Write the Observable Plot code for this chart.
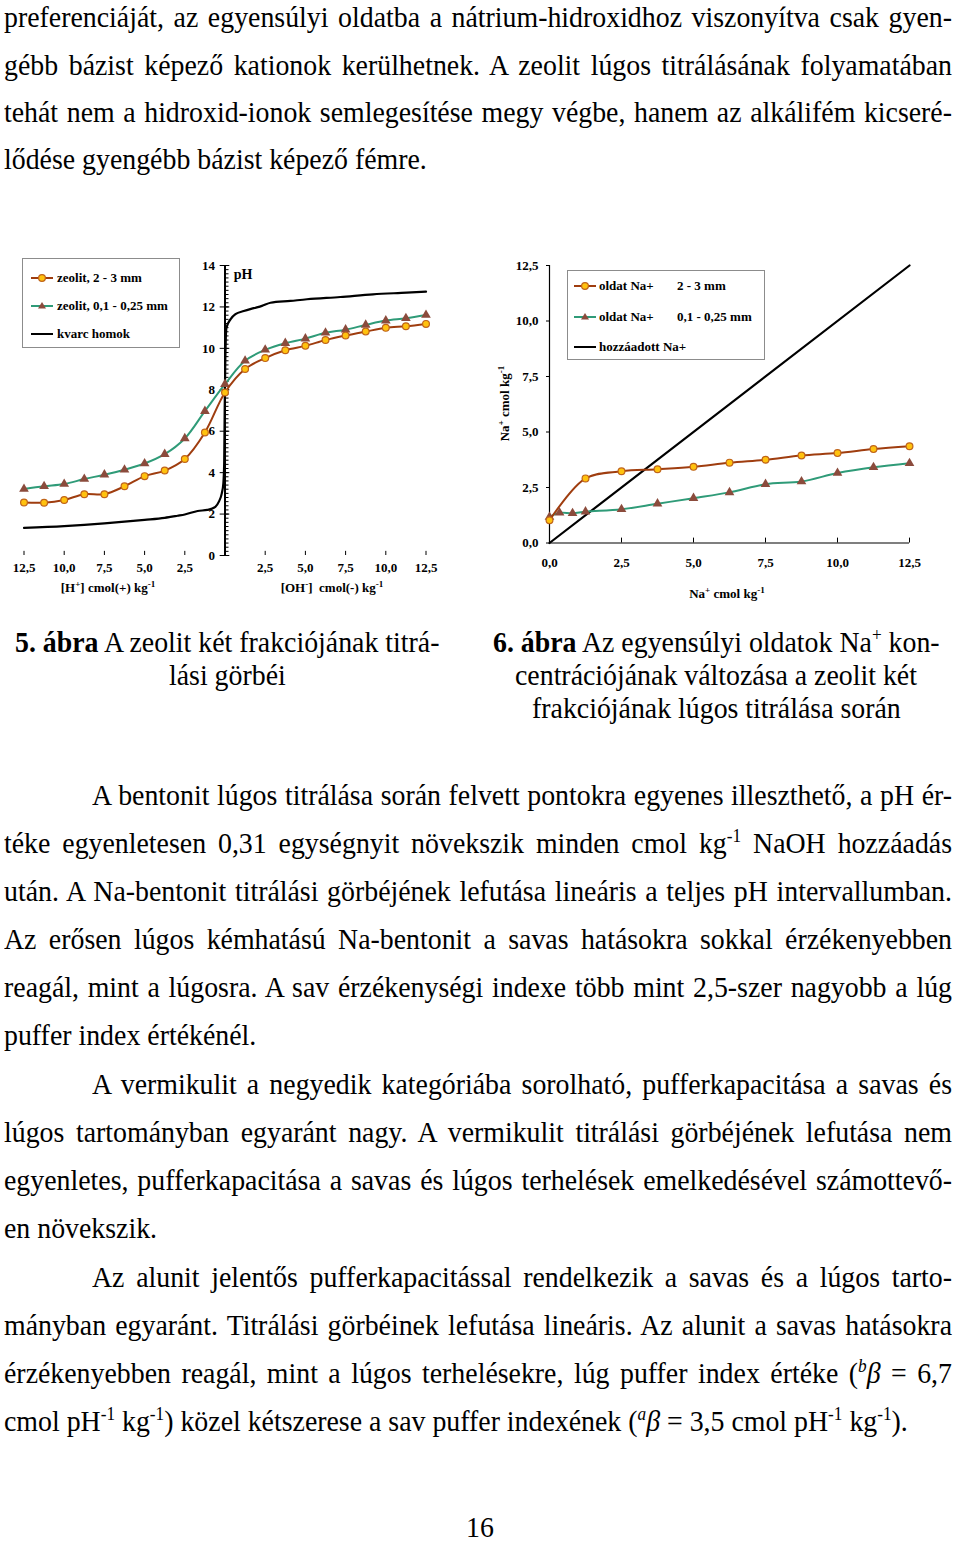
<!DOCTYPE html>
<html><head><meta charset="utf-8">
<script src="https://cdn.jsdelivr.net/npm/d3@7"></script>
<script src="https://cdn.jsdelivr.net/npm/@observablehq/plot@0.6"></script>
<style>
html,body{margin:0;padding:0;background:#fff;}
#page{position:relative;width:960px;height:1544px;overflow:hidden;font-family:"Liberation Serif","Times New Roman",Times,serif;color:#000;background:#fff;}
.ln{position:absolute;white-space:nowrap;font-size:29px;font-family:"Liberation Serif","Times New Roman",Times,serif;}
.ln span{display:inline-block;transform-origin:0 0;}
.ln sup{font-size:0.62em;line-height:0;vertical-align:0.6em;}
.chart{position:absolute;}
.lbl{position:absolute;white-space:nowrap;font-weight:bold;font-size:13px;line-height:13px;font-family:"Liberation Serif","Times New Roman",serif;}
.lbl sup{font-size:0.7em;line-height:0;vertical-align:0.6em;}
.legend{position:absolute;border:1px solid #8c8c8c;background:#fff;box-sizing:border-box;}
.legend .it{position:absolute;white-space:nowrap;font-weight:bold;font-size:13px;line-height:13px;font-family:"Liberation Serif","Times New Roman",serif;}
.legend svg{position:absolute;}
</style></head><body><div id="page"></div>
<script>
// ---------- chart 5: titration curves ----------
const acidLoad = [12.5, 11.25, 10, 8.75, 7.5, 6.25, 5, 3.75, 2.5, 1.25, 0];
const baseLoad = [1.25, 2.5, 3.75, 5, 6.25, 7.5, 8.75, 10, 11.25, 12.5];
const coarseAcidPH = [2.56, 2.55, 2.68, 2.96, 2.96, 3.34, 3.83, 4.1, 4.66, 5.94, 7.87];
const coarseBasePH = [9.0, 9.53, 9.91, 10.12, 10.4, 10.62, 10.81, 10.99, 11.07, 11.18];
const fineAcidPH = [3.21, 3.34, 3.45, 3.69, 3.9, 4.14, 4.44, 4.89, 5.65, 6.97, 8.27];
const fineBasePH = [9.4, 9.93, 10.25, 10.47, 10.75, 10.9, 11.13, 11.34, 11.45, 11.61];
// kvarc homok: signed load (negative = acid side), pH
const quartzLoad = [-12.5, -10, -7.5, -5, -3.75, -2.95, -2.5, -1.7, -1.1, -0.6, -0.38, -0.2, -0.1, -0.05, -0.02, 0.02, 0.05, 0.09, 0.34, 0.65, 1.17, 1.79, 2.3, 2.83, 4.07, 5.1, 7.17, 9.2, 11.3, 12.5];
const quartzPH = [1.33, 1.42, 1.55, 1.72, 1.82, 1.92, 1.98, 2.15, 2.2, 2.35, 2.6, 3.0, 3.5, 4.5, 7.0, 9.5, 10.5, 11.0, 11.4, 11.65, 11.8, 11.94, 12.05, 12.2, 12.29, 12.37, 12.48, 12.61, 12.69, 12.74];
const hTicks = [12.5, 10, 7.5, 5, 2.5];
const ohTicks = [2.5, 5, 7.5, 10, 12.5];
const phTicks = [0, 2, 4, 6, 8, 10, 12, 14];
const phMinor = d3.range(0, 14.01, 0.2);
const legend5 = ["zeolit, 2 - 3 mm", "zeolit, 0,1 - 0,25 mm", "kvarc homok"];

// ---------- chart 6: Na+ in equilibrium solution ----------
const addedNaX = [0, 12.5];
const addedNaY = [0, 12.5];
const coarseNaX = [0, 1.25, 2.5, 3.75, 5, 6.25, 7.5, 8.75, 10, 11.25, 12.5];
const coarseNaY = [1.02, 2.91, 3.23, 3.32, 3.43, 3.62, 3.75, 3.94, 4.05, 4.23, 4.36];
const fineNaX = [0, 0.35, 0.8, 1.25, 2.5, 3.75, 5, 6.25, 7.5, 8.75, 10, 11.25, 12.5];
const fineNaY = [1.17, 1.36, 1.34, 1.41, 1.52, 1.77, 2.02, 2.28, 2.65, 2.77, 3.15, 3.41, 3.59];
const naTicks = [0, 2.5, 5, 7.5, 10, 12.5];
const legend6 = [["oldat Na+", "2 - 3 mm"], ["oldat Na+", "0,1 - 0,25 mm"], ["hozzáadott Na+", ""]];

// ---------- page text ----------
const para1 = [
  "preferenciáját, az egyensúlyi oldatba a nátrium-hidroxidhoz viszonyítva csak gyen-",
  "gébb bázist képező kationok kerülhetnek. A zeolit lúgos titrálásának folyamatában",
  "tehát nem a hidroxid-ionok semlegesítése megy végbe, hanem az alkálifém kicseré-",
  "lődése gyengébb bázist képező fémre."
];
const caption5 = ["<b>5. ábra</b> A zeolit két frakciójának titrá-", "lási görbéi"];
const caption6 = ["<b>6. ábra</b> Az egyensúlyi oldatok Na<sup>+</sup> kon-", "centrációjának változása a zeolit két", "frakciójának lúgos titrálása során"];
const para2 = [
  "A bentonit lúgos titrálása során felvett pontokra egyenes illeszthető, a pH ér-",
  "téke egyenletesen 0,31 egységnyit növekszik minden cmol kg<sup>-1</sup> NaOH hozzáadás",
  "után. A Na-bentonit titrálási görbéjének lefutása lineáris a teljes pH intervallumban.",
  "Az erősen lúgos kémhatású Na-bentonit a savas hatásokra sokkal érzékenyebben",
  "reagál, mint a lúgosra. A sav érzékenységi indexe több mint 2,5-szer nagyobb a lúg",
  "puffer index értékénél."
];
const para3 = [
  "A vermikulit a negyedik kategóriába sorolható, pufferkapacitása a savas és",
  "lúgos tartományban egyaránt nagy. A vermikulit titrálási görbéjének lefutása nem",
  "egyenletes, pufferkapacitása a savas és lúgos terhelések emelkedésével számottevő-",
  "en növekszik."
];
const para4 = [
  "Az alunit jelentős pufferkapacitással rendelkezik a savas és a lúgos tarto-",
  "mányban egyaránt. Titrálási görbéinek lefutása lineáris. Az alunit a savas hatásokra",
  "érzékenyebben reagál, mint a lúgos terhelésekre, lúg puffer index értéke (<sup><i>b</i></sup><i>β</i> = 6,7",
  "cmol pH<sup>-1</sup> kg<sup>-1</sup>) közel kétszerese a sav puffer indexének (<sup><i>a</i></sup><i>β</i> = 3,5 cmol pH<sup>-1</sup> kg<sup>-1</sup>)."
];
const pageNumber = "16";

const page = document.getElementById("page");
const F = 29, S = 0.96, LH = 26;
function addLine(html, o) {
  const d = document.createElement("div");
  d.className = "ln";
  d.style.lineHeight = LH + "px";
  // baseline offset inside a line box of height LH
  const baseOff = (LH - 1.107 * F) / 2 + 0.891 * F;
  d.style.top = (o.base - baseOff) + "px";
  const s = document.createElement("span");
  s.innerHTML = html;
  d.appendChild(s);
  page.appendChild(d);
  const w = s.getBoundingClientRect().width;
  if (o.center != null) {
    s.style.transform = `scaleX(${S})`;
    d.style.left = (o.center - w * S / 2) + "px";
    return;
  }
  d.style.left = o.left + "px";
  const target = o.right - o.left;
  if (w * S >= target) { s.style.transform = `scaleX(${target / w})`; return; }
  s.style.transform = `scaleX(${S})`;
  if (o.justify) {
    const n = (s.textContent.match(/ /g) || []).length;
    if (n) s.style.wordSpacing = ((target / S - w) / n) + "px";
  }
}
function addPara(lines, firstBase, indent, step) {
  lines.forEach((t, i) => addLine(t, {
    base: firstBase + step * i,
    left: i === 0 ? indent : 4,
    right: 952,
    justify: i < lines.length - 1
  }));
}
addPara(para1, 27, 4, 47.3);
addPara(para2, 805, 92, 48);
addPara(para3, 1094, 92, 48);
addPara(para4, 1287, 92, 48);
caption5.forEach((t, i) => addLine(t, {base: 652 + 33 * i, center: 227}));
caption6.forEach((t, i) => addLine(t, {base: 652 + 33 * i, center: 716}));
addLine(pageNumber, {base: 1537, center: 480});

// ---------- colours ----------
const brown = "#9f3d0f", ochre = "#ffc20e", ochreStroke = "#c0641a";
const green = "#2f9b78", triBrown = "#8b4b3c";
const fmt = d => d3.format(".1f")(Math.abs(d)).replace(".", ",");
const font = {fontFamily: "Liberation Serif, Times New Roman, serif", fontSize: "13px", fontWeight: "bold", background: "transparent", overflow: "visible", color: "#000"};

// ---------- chart 5 ----------
const coarse = [...acidLoad.map((x, i) => ({x: -x, y: coarseAcidPH[i]})), ...baseLoad.map((x, i) => ({x, y: coarseBasePH[i]}))];
const fine = [...acidLoad.map((x, i) => ({x: -x, y: fineAcidPH[i]})), ...baseLoad.map((x, i) => ({x, y: fineBasePH[i]}))];
const quartz = quartzLoad.map((x, i) => ({x, y: quartzPH[i]}));
const signedTicks = [...hTicks.map(d => -d), ...ohTicks];

const p5 = Plot.plot({
  width: 450, height: 350,
  marginLeft: 23.5, marginRight: 24.5, marginTop: 15, marginBottom: 45,
  x: {domain: [-12.5, 12.5], label: null},
  y: {domain: [0, 14], label: null, axis: null},
  style: font,
  marks: [
    Plot.axisX(signedTicks, {tickSize: 0, tickPadding: 7, tickFormat: fmt, fontWeight: "bold", label: null}),
    Plot.ruleX(signedTicks, {x: d => d, y1: 0, y2: 0.2, stroke: "#000", strokeWidth: 1}),
    Plot.ruleY(phMinor, {y: d => d, x1: 0, x2: 0.25, stroke: "#000", strokeWidth: 1}),
    Plot.ruleY(phTicks, {y: d => d, x1: -0.3, x2: 0.3, stroke: "#000", strokeWidth: 1}),
    Plot.ruleX([0], {y1: 0, y2: 14, stroke: "#000", strokeWidth: 2}),
    Plot.text(phTicks, {x: 0, y: d => d, text: d => String(d), dx: -10, textAnchor: "end", fontWeight: "bold", fontSize: 13}),
    Plot.line(quartz, {x: "x", y: "y", stroke: "#000", strokeWidth: 2.2, curve: "monotone-x"}),
    Plot.line(fine, {x: "x", y: "y", stroke: green, strokeWidth: 2, curve: "catmull-rom"}),
    Plot.dot(fine, {x: "x", y: "y", symbol: "triangle", r: 3.6, fill: triBrown, stroke: "none"}),
    Plot.line(coarse, {x: "x", y: "y", stroke: brown, strokeWidth: 2, curve: "catmull-rom"}),
    Plot.dot(coarse, {x: "x", y: "y", r: 3.4, fill: ochre, stroke: ochreStroke, strokeWidth: 1.2})
  ]
});
p5.classList.add("chart");
p5.style.left = "0px"; p5.style.top = "250px";
page.appendChild(p5);

// ---------- chart 6 ----------
const coarseNa = coarseNaX.map((x, i) => ({x, y: coarseNaY[i]}));
const fineNa = fineNaX.map((x, i) => ({x, y: fineNaY[i]}));
const addedNa = addedNaX.map((x, i) => ({x, y: addedNaY[i]}));
const p6 = Plot.plot({
  width: 480, height: 360,
  marginLeft: 69, marginRight: 51, marginTop: 15, marginBottom: 67.5,
  x: {domain: [0, 12.5], label: null},
  y: {domain: [0, 12.5], label: null},
  style: font,
  marks: [
    Plot.axisY(naTicks, {tickSize: 3, tickPadding: 8, tickFormat: fmt, fontWeight: "bold", label: null}),
    Plot.axisX(naTicks, {tickSize: 0, tickPadding: 15, tickFormat: fmt, fontWeight: "bold", label: null}),
    Plot.ruleX(naTicks.slice(1), {x: d => d, y1: 0, y2: 0.22, stroke: "#000"}),
    Plot.ruleX([0], {stroke: "#000", strokeWidth: 1.2}),
    Plot.ruleY([0], {stroke: "#000", strokeWidth: 1.2}),
    Plot.line(addedNa, {x: "x", y: "y", stroke: "#000", strokeWidth: 2.2}),
    Plot.line(fineNa, {x: "x", y: "y", stroke: green, strokeWidth: 2, curve: "catmull-rom"}),
    Plot.dot(fineNa, {x: "x", y: "y", symbol: "triangle", r: 3.6, fill: triBrown, stroke: "none"}),
    Plot.line(coarseNa, {x: "x", y: "y", stroke: brown, strokeWidth: 2, curve: "catmull-rom"}),
    Plot.dot(coarseNa, {x: "x", y: "y", r: 3.4, fill: ochre, stroke: ochreStroke, strokeWidth: 1.2})
  ]
});
p6.classList.add("chart");
p6.style.left = "480px"; p6.style.top = "250px";
page.appendChild(p6);

// ---------- labels ----------
function addLabel(html, cx, cy, rotate) {
  const d = document.createElement("div");
  d.className = "lbl";
  d.innerHTML = html;
  page.appendChild(d);
  const r = d.getBoundingClientRect();
  d.style.left = (cx - r.width / 2) + "px";
  d.style.top = (cy - r.height / 2) + "px";
  if (rotate) d.style.transform = `rotate(${rotate}deg)`;
}
addLabel("[H<sup>+</sup>] cmol(+) kg<sup>-1</sup>", 108, 587);
addLabel("[OH<sup>-</sup>]&nbsp; cmol(-) kg<sup>-1</sup>", 332, 587);
addLabel("<span style='font-size:14px'>pH</span>", 243, 274);
addLabel("Na<sup>+</sup> cmol kg<sup>-1</sup>", 727, 593);
addLabel("Na<sup>+</sup> cmol kg<sup>-1</sup>", 505, 403, -90);

// ---------- legends ----------
function sample(color, kind) {
  let m = "";
  if (kind === "circle") m = `<circle cx="11" cy="5" r="3.4" fill="${ochre}" stroke="${ochreStroke}" stroke-width="1.2"/>`;
  if (kind === "tri") m = `<path d="M11,1 L15,7.5 L7,7.5 Z" fill="${triBrown}"/>`;
  return `<svg width="22" height="10" viewBox="0 0 22 10"><line x1="0" y1="5" x2="22" y2="5" stroke="${color}" stroke-width="2"/>${m}</svg>`;
}
const kinds = [[brown, "circle"], [green, "tri"], ["#000", ""]];
function addLegend(items, box, rows, sx, tx, tx2) {
  const lg = document.createElement("div");
  lg.className = "legend";
  Object.assign(lg.style, {left: box[0] + "px", top: box[1] + "px", width: box[2] + "px", height: box[3] + "px"});
  items.forEach((it, i) => {
    const s = document.createElement("div");
    s.innerHTML = sample(kinds[i][0], kinds[i][1]);
    const svg = s.firstChild;
    svg.style.left = sx + "px"; svg.style.top = (rows[i] - 5) + "px";
    lg.appendChild(svg);
    const labels = Array.isArray(it) ? it : [it, ""];
    [labels[0], labels[1]].forEach((t, j) => {
      if (!t) return;
      const e = document.createElement("div");
      e.className = "it";
      e.textContent = t;
      e.style.left = (j === 0 ? tx : tx2) + "px";
      e.style.top = (rows[i] - 7) + "px";
      lg.appendChild(e);
    });
  });
  page.appendChild(lg);
}
addLegend(legend5, [22, 258, 158, 90], [19, 47, 75], 8, 34, 0);
addLegend(legend6, [567, 270, 198, 90], [15, 46, 76], 6, 31, 109);
</script></body></html>
